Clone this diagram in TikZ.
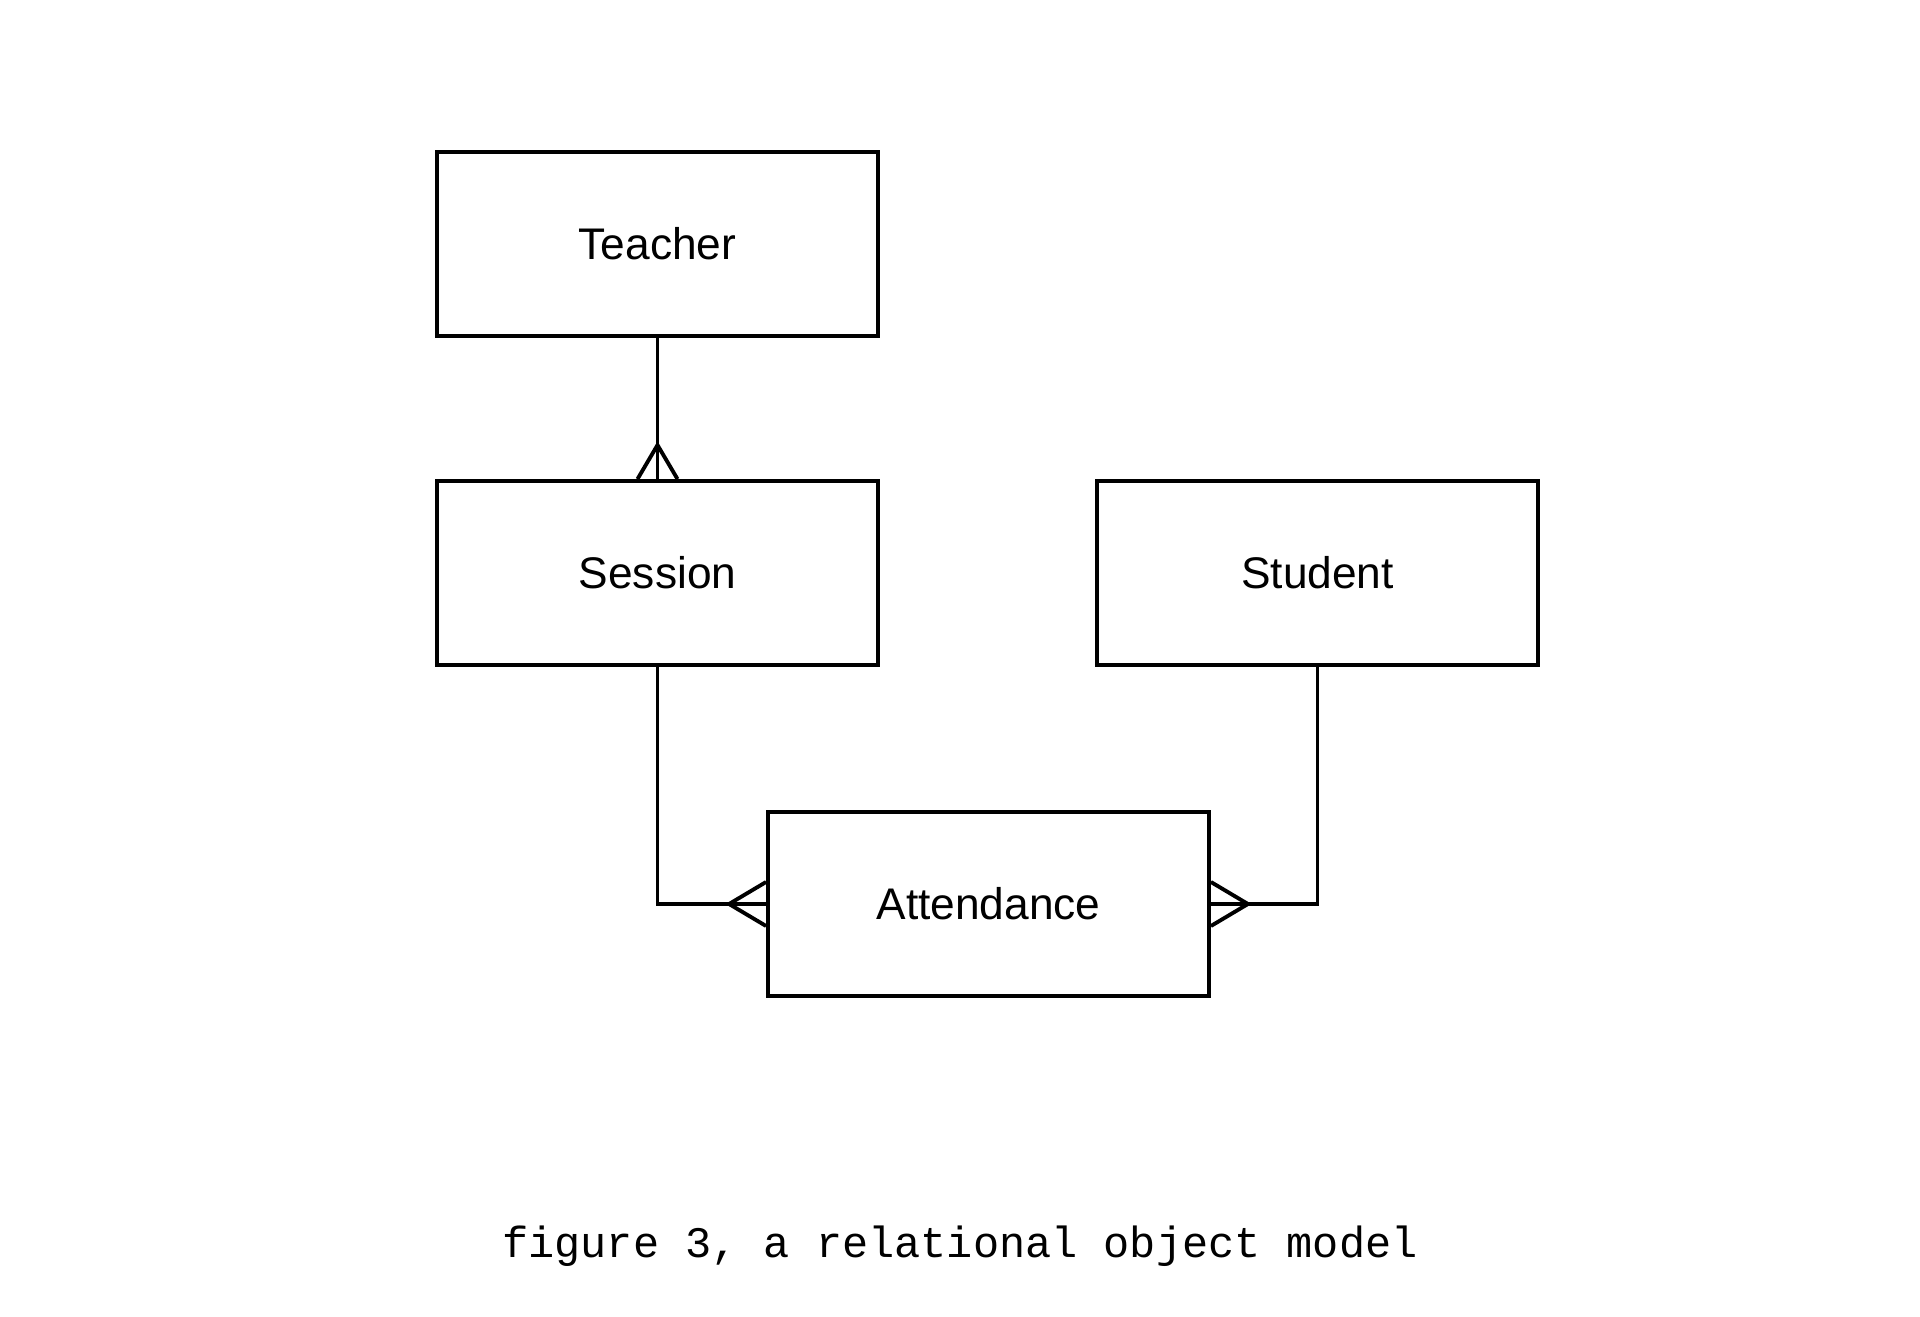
\documentclass[tikz,border=0pt]{standalone}
\usepackage{fontspec}
\setmainfont{Liberation Sans}
\setmonofont{Liberation Mono}
\usepackage{tikz}
\usetikzlibrary{calc}

\tikzset{
  entity/.style={draw, line width=1.1pt, minimum width=4.41cm, minimum height=1.84cm,
    inner sep=0pt, font=\fontsize{12.6}{14}\selectfont},
  link/.style={line width=1.1pt},
}

\begin{document}
\begin{tikzpicture}
  % Fix page size to the reference proportions
  \useasboundingbox (0,0) rectangle (19.2,13.16);

  % Entities
  \node[entity] (teacher)    at (6.575, 10.72) {Teacher};
  \node[entity] (session)    at (6.575, 7.43)  {Session};
  \node[entity] (student)    at (13.175, 7.43) {Student};
  \node[entity] (attendance) at (9.885, 4.12)  {Attendance};

  % Teacher -- Session (many)
  \draw[link] (teacher.south) -- (session.north);
  \coordinate (tsApex) at ($(session.north)+(0,0.34)$);
  \draw[link] ($(session.north)+(-0.2,0)$) -- (tsApex) -- ($(session.north)+(0.2,0)$);

  % Session -- Attendance (many)
  \draw[link] (session.south) |- (attendance.west);
  \coordinate (saApex) at ($(attendance.west)+(-0.37,0)$);
  \draw[link] ($(attendance.west)+(0,0.22)$) -- (saApex) -- ($(attendance.west)+(0,-0.22)$);

  % Student -- Attendance (many)
  \draw[link] (student.south) |- (attendance.east);
  \coordinate (stApex) at ($(attendance.east)+(0.37,0)$);
  \draw[link] ($(attendance.east)+(0,0.22)$) -- (stApex) -- ($(attendance.east)+(0,-0.22)$);

  % Caption
  \node[font=\ttfamily\fontsize{12.4}{14}\selectfont] (caption) at (9.6, 0.70)
    {figure 3, a relational object model};
\end{tikzpicture}
\end{document}
